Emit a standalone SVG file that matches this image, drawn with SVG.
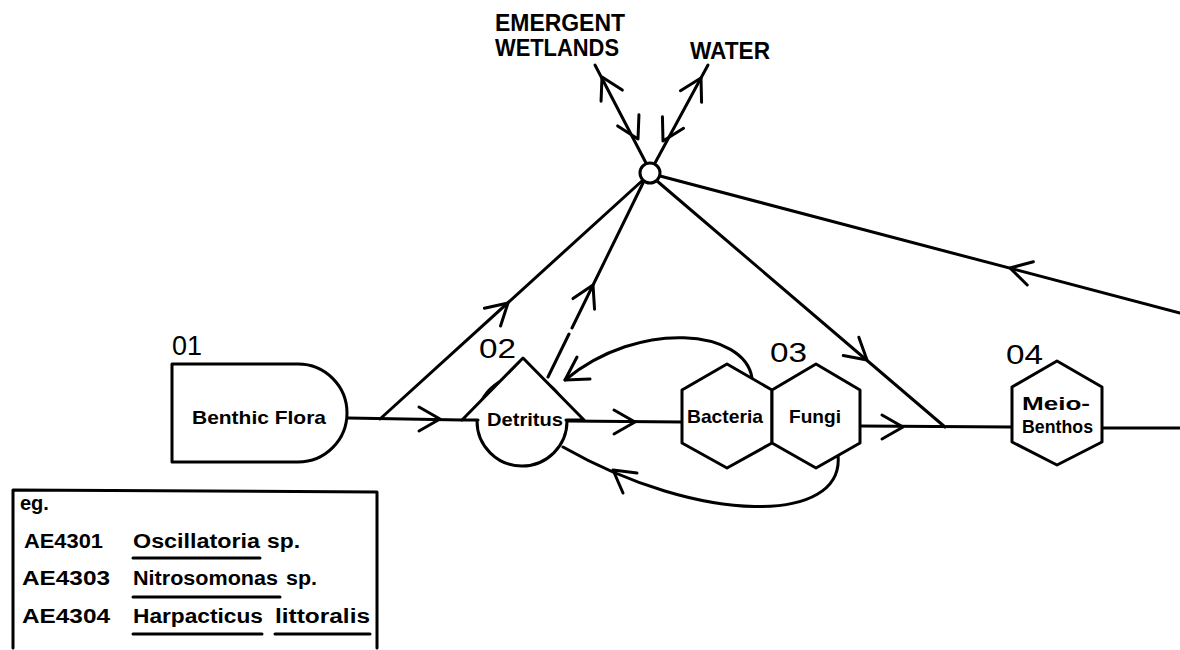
<svg xmlns="http://www.w3.org/2000/svg" width="1180" height="650" viewBox="0 0 1180 650">
<style>
.ln{fill:none;stroke:#000;stroke-width:3;stroke-linejoin:round;stroke-linecap:round}
.sh{fill:#fff;stroke:#000;stroke-width:3;stroke-linejoin:round}
.lab{font-family:"Liberation Sans",Arial,sans-serif;font-weight:bold;font-size:24px;fill:#000}
.num{font-family:"Liberation Sans",Arial,sans-serif;font-size:27px;fill:#000}
.nt{font-family:"Liberation Sans",Arial,sans-serif;font-weight:bold;font-size:19px;fill:#000}
.lg{font-family:"Liberation Sans",Arial,sans-serif;font-weight:bold;font-size:20px;fill:#000}
.ar{fill:none;stroke:#000;stroke-width:3;stroke-linecap:round;stroke-linejoin:round}
</style>
<defs>
<path id="arw" class="ar" d="M-21,-12 L0,0 L-21,12"/>
</defs>
<rect width="1180" height="650" fill="#fff"/>

<g id="connectors">
<!-- hub spokes -->
<path class="ln" d="M646,163 L595,65"/>
<use href="#arw" transform="translate(602,77) rotate(-117.5)"/>
<use href="#arw" transform="translate(638,139) rotate(62.5)"/>
<path class="ln" d="M655,163 L708,65"/>
<use href="#arw" transform="translate(701,78) rotate(-61.6)"/>
<use href="#arw" transform="translate(663,141) rotate(118.4)"/>
<path class="ln" d="M380,419 L643,180"/>
<use href="#arw" transform="translate(508,303) rotate(-42.3)"/>
<path class="ln" d="M548,377 L569,334 M572,328 L643,183"/>
<use href="#arw" transform="translate(593,285) rotate(-63.9)"/>
<path class="ln" d="M657,181 L945,427"/>
<use href="#arw" transform="translate(867,360) rotate(40.5)"/>
<path class="ln" d="M1180,313 L660,176"/>
<use href="#arw" transform="translate(1010,268) rotate(-165.2)"/>
<!-- main line -->
<path class="ln" d="M348,418 L462,420"/>
<use href="#arw" transform="translate(440,419)"/>
<path class="ln" d="M568,421 L682,422"/>
<use href="#arw" transform="translate(635,422)"/>
<path class="ln" d="M860,426 L1012,427"/>
<use href="#arw" transform="translate(903,427)"/>
<path class="ln" d="M1103,428 L1180,428"/>
<!-- loops -->
<path class="ln" d="M752,378 C745,330 640,318 565,380"/>
<path class="ar" d="M577,357 L565,380 L590,379"/>
<path class="ln" d="M838,455 C845,525 700,525 563,447"/>
<path class="ar" d="M637,473 L613,470 L623,493"/>
</g>

<g id="hub">
<circle cx="650" cy="173" r="10" class="sh"/>
</g>

<g id="emergent-wetlands">
<text class="lab" x="495" y="31" textLength="130" lengthAdjust="spacingAndGlyphs">EMERGENT</text>
<text class="lab" x="495" y="56" textLength="124" lengthAdjust="spacingAndGlyphs">WETLANDS</text>
</g>
<g id="water">
<text class="lab" x="690" y="59" textLength="80" lengthAdjust="spacingAndGlyphs">WATER</text>
</g>

<g id="n01">
<path class="sh" d="M172,364 L298,364 A49,49 0 0 1 298,462 L172,462 Z"/>
<text class="num" x="172" y="355" textLength="30" lengthAdjust="spacingAndGlyphs">01</text>
<text class="nt" x="192" y="424" textLength="134" lengthAdjust="spacingAndGlyphs">Benthic Flora</text>
</g>

<g id="n02">
<circle cx="522" cy="421" r="45" class="sh"/>
<path d="M462,420 L523,358 L584,420 Z" fill="#fff"/>
<path class="ln" d="M462,420 L523,358 L584,420 M462,420 L478,420 M566,420 L584,420"/>
<text class="num" x="479" y="358" textLength="37" lengthAdjust="spacingAndGlyphs">02</text>
<text class="nt" x="487" y="426" textLength="76" lengthAdjust="spacingAndGlyphs">Detritus</text>
</g>

<g id="n03">
<polygon class="sh" points="727,364 772,390 772,443 727,468 682,443 682,390"/>
<polygon class="sh" points="816,364 860,390 860,443 816,468 772,443 772,390"/>
<text class="num" x="770" y="362" textLength="37" lengthAdjust="spacingAndGlyphs">03</text>
<text class="nt" x="687" y="423" textLength="76" lengthAdjust="spacingAndGlyphs">Bacteria</text>
<text class="nt" x="789" y="423" textLength="52" lengthAdjust="spacingAndGlyphs">Fungi</text>
</g>

<g id="n04">
<polygon class="sh" points="1057,361 1102,387 1102,442 1057,465 1012,442 1012,387"/>
<text class="num" x="1006" y="364" textLength="37" lengthAdjust="spacingAndGlyphs">04</text>
<text class="nt" x="1022" y="410" font-size="17" textLength="68" lengthAdjust="spacingAndGlyphs">Meio-</text>
<text class="nt" x="1022" y="433" font-size="17" textLength="71" lengthAdjust="spacingAndGlyphs">Benthos</text>
</g>

<g id="legend">
<path class="ln" d="M13,648 L13,490 L377,492 L377,648"/>
<text class="lg" x="20" y="510">eg.</text>
<text class="lg" x="24" y="548" textLength="79" lengthAdjust="spacingAndGlyphs">AE4301</text>
<text class="lg" x="133" y="548" textLength="127" lengthAdjust="spacingAndGlyphs">Oscillatoria</text>
<text class="lg" x="267" y="548" textLength="33" lengthAdjust="spacingAndGlyphs">sp.</text>
<text class="lg" x="22" y="585" textLength="88" lengthAdjust="spacingAndGlyphs">AE4303</text>
<text class="lg" x="133" y="585" textLength="145" lengthAdjust="spacingAndGlyphs">Nitrosomonas</text>
<text class="lg" x="286" y="585" textLength="31" lengthAdjust="spacingAndGlyphs">sp.</text>
<text class="lg" x="22" y="623" textLength="88" lengthAdjust="spacingAndGlyphs">AE4304</text>
<text class="lg" x="133" y="623" textLength="130" lengthAdjust="spacingAndGlyphs">Harpacticus</text>
<text class="lg" x="275" y="623" textLength="95" lengthAdjust="spacingAndGlyphs">littoralis</text>
<path class="ln" d="M133,558 L260,558 M133,597 L280,597 M133,634 L262,634 M275,634 L370,634"/>
</g>
</svg>
